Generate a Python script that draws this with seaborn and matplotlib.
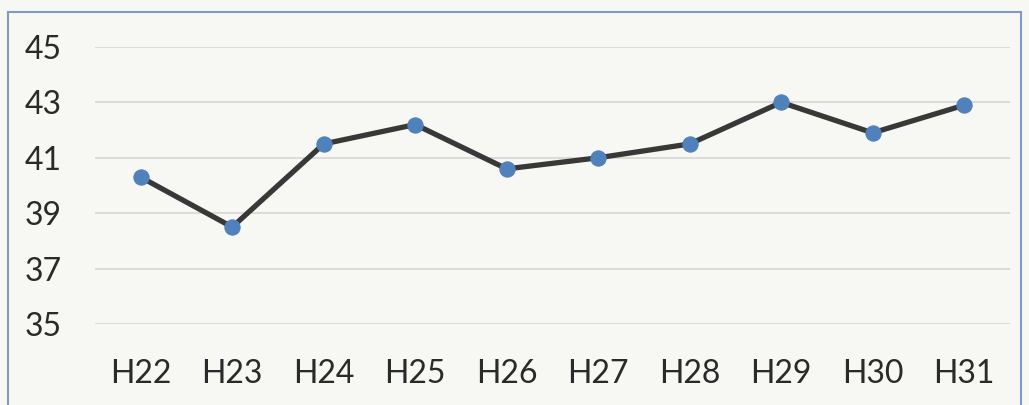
import pandas as pd
import matplotlib.pyplot as plt
import seaborn as sns
from matplotlib.patches import Rectangle

# data
years = ['H22', 'H23', 'H24', 'H25', 'H26', 'H27', 'H28', 'H29', 'H30', 'H31']
values = [40.3, 38.5, 41.5, 42.2, 40.6, 41.0, 41.5, 43.0, 41.9, 42.9]
yticks = [35, 37, 39, 41, 43, 45]

df = pd.DataFrame({'year': years, 'value': values})
df['pos'] = range(len(years))

sns.set_style('white')
plt.rcParams['font.family'] = ['Lato', 'DejaVu Sans']

paper = '#f7f7f3'
fig = plt.figure(figsize=(10.29, 4.05), dpi=100, facecolor=paper)
ax = fig.add_axes([0.0923, 0.2, 0.8892, 0.684])
ax.set_facecolor(paper)

for t in yticks:
    ax.axhline(t, color='#d8d8d4', lw=1.3, zorder=0)

sns.lineplot(data=df, x='pos', y='value', ax=ax, color='#383838', lw=3.8,
             marker='o', markersize=11, markerfacecolor='#4f81bd',
             markeredgecolor='#4f81bd', zorder=3)

ax.set_xlim(-0.5, len(years) - 0.5)
ax.set_ylim(35, 45)
ax.set_xticks(df['pos'])
ax.set_xticklabels(years)
ax.set_yticks(yticks)
ax.set_xlabel('')
ax.set_ylabel('')
ax.tick_params(axis='y', labelsize=23, pad=24, length=0, colors='#2a2a2a')
ax.tick_params(axis='x', labelsize=23, pad=25, length=0, colors='#2a2a2a')
for s in ax.spines.values():
    s.set_visible(False)

# outer chart frame
fig.patches.append(Rectangle((8 / 1029, -0.05), 1013 / 1029, 1.05 - 12 / 405,
                             transform=fig.transFigure, fill=False,
                             edgecolor='#7f9cc0', lw=1.5))

fig.savefig('out.png', dpi=100, facecolor=paper)
